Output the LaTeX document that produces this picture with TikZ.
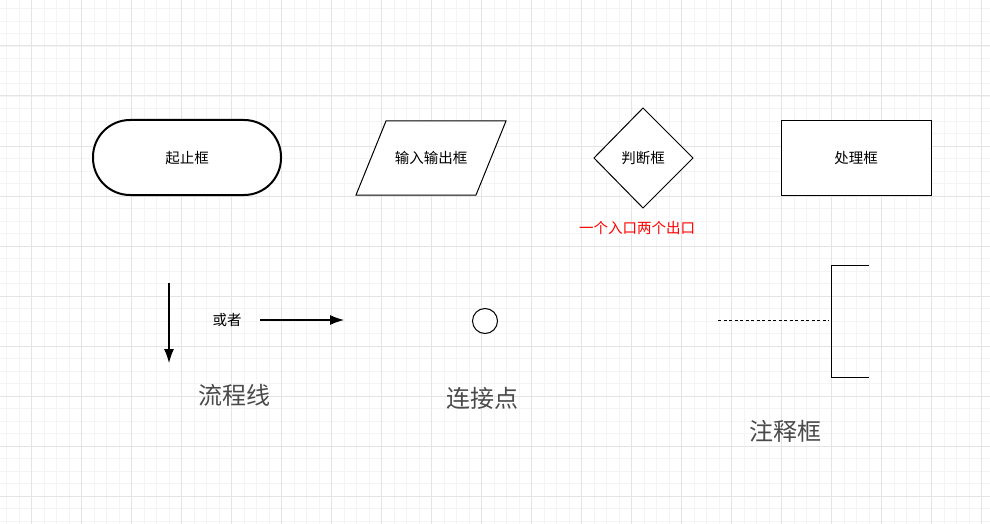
\documentclass[tikz,border=0pt]{standalone}
\usepackage{fontspec}
\newfontfamily\cjk{Noto Sans CJK SC}
\usetikzlibrary{shapes.geometric,arrows.meta}
\definecolor{gridminor}{HTML}{F4F4F4}
\definecolor{gridmajor}{HTML}{E4E4E4}
\definecolor{labelgray}{HTML}{4A4A4A}
\begin{document}
\begin{tikzpicture}[
    x=1pt, y=-1pt,
    every node/.style={font=\cjk\fontsize{14.5}{17}\selectfont, inner sep=0pt},
    shapebox/.style={draw, line width=1pt},
    caption/.style={font=\cjk\fontsize{24}{28}\selectfont, text=labelgray},
    flowline/.style={line width=1.1pt, -{Latex[length=14pt,width=10pt]}}
]
\useasboundingbox (0,0) rectangle (990,524);
% grid
\foreach \gx in {6.5,19,...,990} \draw[gridminor, line width=0.8pt] (\gx,0) -- (\gx,524);
\foreach \gy in {8.5,21,...,524} \draw[gridminor, line width=0.8pt] (0,\gy) -- (990,\gy);
\foreach \gx in {31,81,...,990} \draw[gridmajor, line width=1pt] (\gx,0) -- (\gx,524);
\foreach \gy in {46,96,...,524} \draw[gridmajor, line width=1pt] (0,\gy) -- (990,\gy);

% first row
\draw[fill=white, line width=2pt, rounded corners=37pt] (93,120) rectangle (281,195);
\node (start) at (187,158) {起止框};
\draw[shapebox, fill=white] (386,121) -- (506,121) -- (476,195) -- (356,195) -- cycle;
\node (io) at (431,158) {输入输出框};
\draw[shapebox, fill=white] (643,108) -- (693,158) -- (643,208) -- (594,158) -- cycle;
\node (judge) at (643,158) {判断框};
\node[text=red] (judgenote) at (637,228) {一个入口两个出口};
\draw[shapebox, fill=white] (781,121) rectangle (931,195);
\node (proc) at (856,158) {处理框};

% second row
\coordinate (downA) at (169,283);
\coordinate (downB) at (169,363);
\draw[flowline] (downA) -- (downB);
\node (or) at (227,320) {或者};
\coordinate (rightA) at (260,320);
\coordinate (rightB) at (344,320);
\draw[flowline] (rightA) -- (rightB);
\node[caption] (flow) at (234,395) {流程线};

\node[circle, draw, line width=1pt, minimum size=25pt, fill=white] (joint) at (485,321) {};
\node[caption] (jointlbl) at (482,398) {连接点};

\coordinate (noteA) at (718,320);
\coordinate (noteB) at (829,320);
\draw[line width=0.9pt, dash pattern=on 3pt off 2.5pt] (noteA) -- (noteB);
\draw[line width=1pt] (869,265) -- (831,265) -- (831,377) -- (869,377);
\node[caption] (notelbl) at (785,431) {注释框};
\end{tikzpicture}
\end{document}
